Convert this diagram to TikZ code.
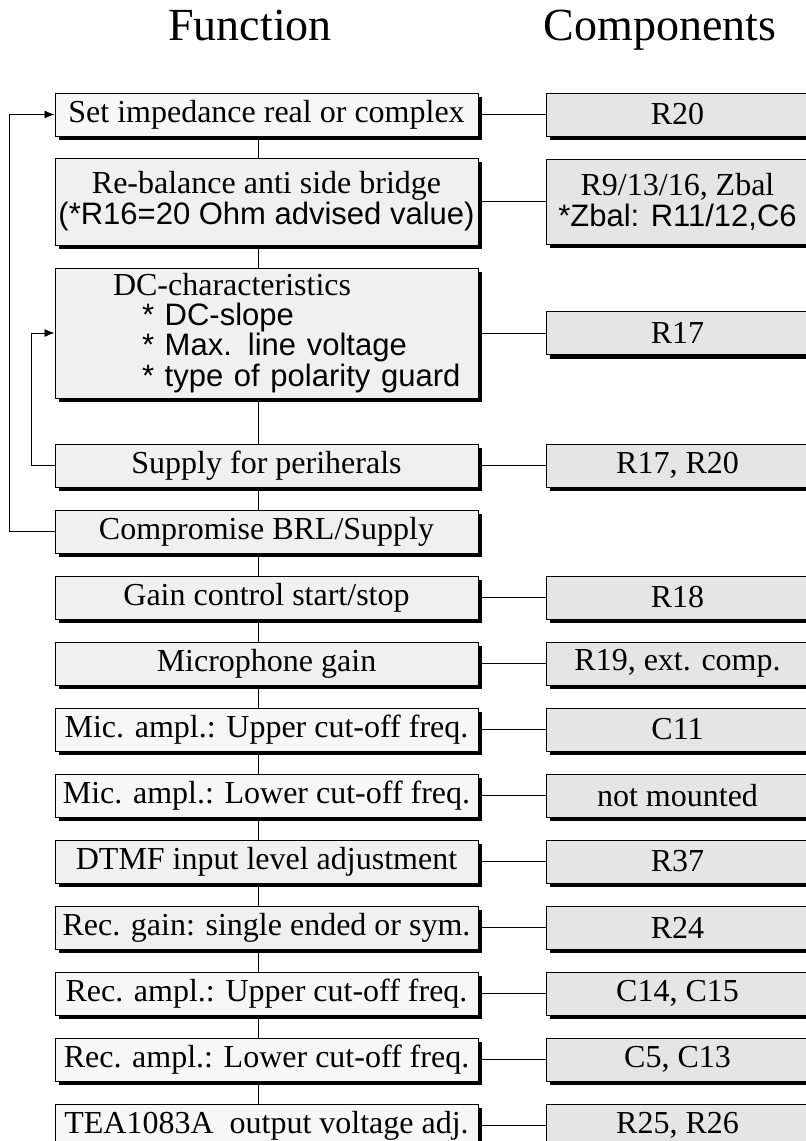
\documentclass[tikz,border=0pt]{standalone}
\usepackage{fontspec}
\setmainfont{Liberation Serif}
\setsansfont{Liberation Sans}
\usetikzlibrary{arrows.meta,positioning,shadows}

\newcommand{\sanstxt}{\sffamily\fontsize{31}{30}\selectfont}

\begin{document}
\begin{tikzpicture}[
    x=1pt, y=1pt,
    node distance=22pt and 67pt,
    fn/.style={draw, line width=1pt, minimum width=423pt,
               minimum height=43pt, inner sep=3pt, align=center,
               font=\fontsize{32}{31}\selectfont, fill=gray!12,
               drop shadow={shadow xshift=4pt, shadow yshift=-4pt,
                            fill=black, opacity=1}},
    fnlight/.style={fn, fill=gray!6},
    comp/.style={fn, minimum width=263pt, fill=gray!20},
    head/.style={font=\fontsize{46}{50}\selectfont, anchor=base},
    arr/.style={-{Latex[length=10pt,width=8pt]}, line width=0.9pt},
    link/.style={line width=0.9pt}
]
\useasboundingbox (0,0) rectangle (806,-1141);

% -- headings --
\node[head] (fnhead) at (250,-40) {Function};
\node[head] (cphead) at (660,-40) {Components};

% -- function column --
\node[fnlight] (fn1) at (266.5,-114.5) {Set impedance real or complex};
\node[fn, below=21pt of fn1, minimum height=87pt] (fn2)
    {Re-balance anti side bridge\\ \sanstxt(*R16=20 Ohm advised value)};
\node[fn, below=of fn2, minimum height=130pt, text width=417pt, align=left] (fn3)
    {\hspace*{55pt}DC-characteristics\\
     \sanstxt\hspace*{84pt}* DC-slope\\
     \hspace*{84pt}* Max. line voltage\\
     \hspace*{84pt}* type of polarity guard};
\node[fn, below=45pt of fn3] (fn4) {Supply for periherals};
\node[fn, below=of fn4] (fn5) {Compromise BRL/Supply};
\node[fn, below=of fn5] (fn6) {Gain control start/stop};
\node[fn, below=of fn6] (fn7) {Microphone gain};
\node[fnlight, below=of fn7] (fn8) {Mic. ampl.: Upper cut-off freq.};
\node[fnlight, below=of fn8] (fn9) {Mic. ampl.: Lower cut-off freq.};
\node[fn, below=of fn9] (fn10) {DTMF input level adjustment};
\node[fn, below=of fn10] (fn11) {Rec. gain: single ended or sym.};
\node[fnlight, below=of fn11] (fn12) {Rec. ampl.: Upper cut-off freq.};
\node[fnlight, below=of fn12] (fn13) {Rec. ampl.: Lower cut-off freq.};
\node[fnlight, below=of fn13] (fn14) {TEA1083A\ \ output voltage adj.};

% -- components column --
\node[comp, right=of fn1] (cp1) {R20};
\node[comp, right=of fn2, minimum height=85pt] (cp2)
    {R9/13/16, Zbal\\ \sanstxt*Zbal: R11/12,C6};
\node[comp, right=of fn3] (cp3) {R17};
\node[comp, right=of fn4] (cp4) {R17, R20};
\node[comp, right=of fn6] (cp6) {R18};
\node[comp, right=of fn7] (cp7) {R19, ext. comp.};
\node[comp, right=of fn8] (cp8) {C11};
\node[comp, right=of fn9] (cp9) {not mounted};
\node[comp, right=of fn10] (cp10) {R37};
\node[comp, right=of fn11] (cp11) {R24};
\node[comp, right=of fn12] (cp12) {C14, C15};
\node[comp, right=of fn13] (cp13) {C5, C13};
\node[comp, right=of fn14] (cp14) {R25, R26};

% -- chain and links --
\foreach \a/\b in {1/2,2/3,3/4,4/5,5/6,6/7,7/8,8/9,9/10,10/11,11/12,12/13,13/14}
    \draw[link] ([xshift=-8pt]fn\a.south) -- ([xshift=-8pt]fn\b.north);
\foreach \r in {1,2,3,4,6,7,8,9,10,11,12,13,14}
    \draw[link] (fn\r.east) -- (cp\r.west);

% -- feedback loops --
\draw[arr] (fn5.west) -- ++(-45,0) |- (fn1.west);
\draw[arr] (fn4.west) -- ++(-23,0) |- (fn3.west);

\end{tikzpicture}
\end{document}
